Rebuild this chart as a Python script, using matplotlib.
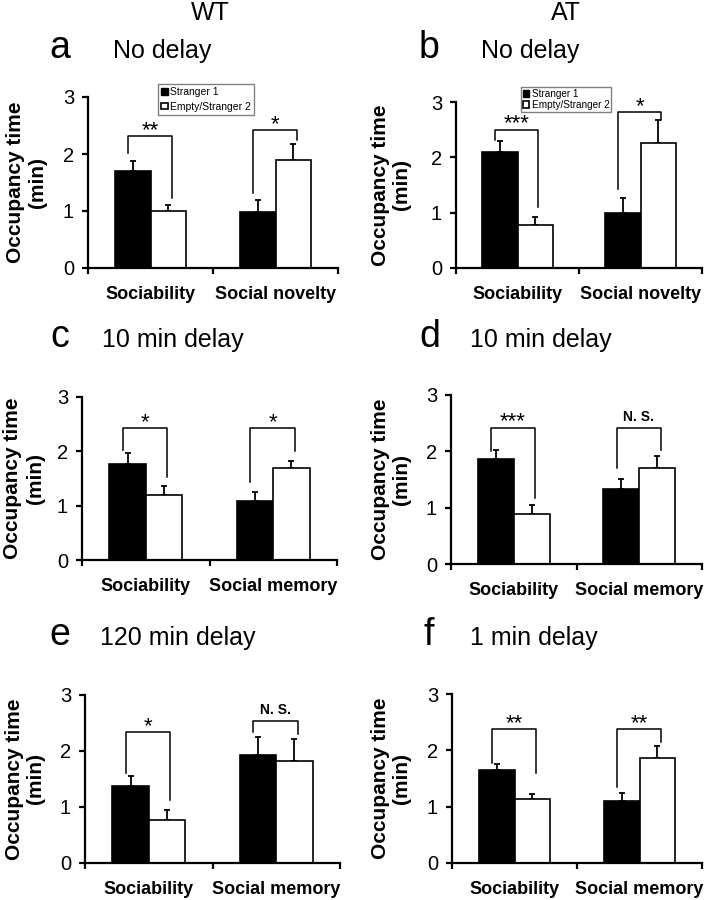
import matplotlib
matplotlib.use('Agg')
import matplotlib.pyplot as plt
from matplotlib.patches import Patch

plt.rcParams['font.family'] = ['Liberation Sans', 'DejaVu Sans']

# panel data (in min)
panel_letters = ['a', 'b', 'c', 'd', 'e', 'f']
panel_titles = ['No delay', 'No delay', '10 min delay', '10 min delay',
                '120 min delay', '1 min delay']
group_labels = [['Sociability', 'Social novelty'], ['Sociability', 'Social novelty'],
                ['Sociability', 'Social memory'], ['Sociability', 'Social memory'],
                ['Sociability', 'Social memory'], ['Sociability', 'Social memory']]
stranger1_mean = [[1.70, 0.98], [2.09, 1.00], [1.77, 1.08],
                  [1.87, 1.33], [1.37, 1.93], [1.65, 1.10]]
stranger1_sem = [[0.17, 0.22], [0.20, 0.27], [0.20, 0.18],
                 [0.16, 0.18], [0.18, 0.32], [0.10, 0.14]]
stranger2_mean = [[1.00, 1.89], [0.78, 2.25], [1.20, 1.69],
                  [0.89, 1.70], [0.76, 1.82], [1.13, 1.87]]
stranger2_sem = [[0.10, 0.29], [0.14, 0.42], [0.16, 0.14],
                 [0.16, 0.22], [0.19, 0.40], [0.10, 0.20]]
# significance brackets: (top, left leg end, right leg end) per group
bracket_top = [[2.32, 2.42], [2.50, 2.82], [2.43, 2.43],
               [2.42, 2.42], [2.34, 2.54], [2.37, 2.37]]
bracket_left = [[2.02, 1.32], [2.32, 1.42], [2.02, 1.44],
                [2.01, 1.70], [1.60, 2.34], [1.78, 1.35]]
bracket_right = [[1.23, 2.25], [1.11, 2.68], [1.52, 2.00],
                 [1.17, 2.03], [1.13, 2.31], [1.59, 2.15]]
sig_labels = [['**', '*'], ['***', '*'], ['*', '*'],
              ['***', 'N. S.'], ['*', 'N. S.'], ['**', '**']]
legend_labels = ['Stranger 1', 'Empty/Stranger 2']

W, H = 704, 900
fig = plt.figure(figsize=(W / 100, H / 100), dpi=100)

# axes boxes in pixels: left, right, top(y=3), bottom(y=0)
boxes = [(88, 338, 97, 268), (456, 702, 102, 268),
         (82, 337, 397, 560), (451, 702, 395, 564),
         (85, 340, 695, 863), (452, 702, 694, 863)]
letter_pos = [(49, 58, 113), (419, 58, 481), (50, 347, 102),
              (419, 347, 470), (49, 645, 100), (424, 645, 470)]
ylabel_x = [27, 391, 24, 391, 25, 391]

width = 0.285
for i in range(6):
    l, r, t, b = boxes[i]
    ax = fig.add_axes([l / W, 1 - b / H, (r - l) / W, (b - t) / H])
    x = [0, 1]
    ax.bar([v - width / 2 for v in x], stranger1_mean[i], width, color='black',
           edgecolor='black', linewidth=1.2, zorder=2)
    ax.bar([v + width / 2 for v in x], stranger2_mean[i], width, color='white',
           edgecolor='black', linewidth=1.2, zorder=2)
    ax.errorbar([v - width / 2 for v in x], stranger1_mean[i],
                yerr=[[0, 0], stranger1_sem[i]], fmt='none', ecolor='black',
                elinewidth=1.3, capsize=2, capthick=1.3, zorder=1)
    ax.errorbar([v + width / 2 for v in x], stranger2_mean[i],
                yerr=[[0, 0], stranger2_sem[i]], fmt='none', ecolor='black',
                elinewidth=1.3, capsize=2, capthick=1.3, zorder=1)

    # brackets
    for g in range(2):
        xl, xr = g - 0.18, g + 0.17
        top = bracket_top[i][g]
        ax.plot([xl, xl, xr, xr], [bracket_left[i][g], top, top, bracket_right[i][g]],
                color='black', linewidth=1.1, clip_on=False, zorder=3)
        lab = sig_labels[i][g]
        if lab == 'N. S.':
            ax.annotate(lab, ((xl + xr) / 2, top), xytext=(0, 3),
                        textcoords='offset points', ha='center', va='bottom',
                        fontsize=10, fontweight='bold')
        else:
            ax.annotate(lab, ((xl + xr) / 2, top), xytext=(0, 0),
                        textcoords='offset points', ha='center', va='baseline',
                        fontsize=16)

    ax.set_xlim(-0.5, 1.5)
    ax.set_ylim(0, 3)
    for s in ['top', 'right']:
        ax.spines[s].set_visible(False)
    for s in ['left', 'bottom']:
        ax.spines[s].set_linewidth(1.6)
    ax.set_yticks([0, 1, 2, 3])
    ax.tick_params(axis='y', direction='out', length=4, width=1.6,
                   labelsize=14.5, pad=6)
    ax.set_xticks([-0.5, 0.5, 1.5])
    ax.set_xticklabels(['', '', ''])
    ax.tick_params(axis='x', which='major', direction='out', length=4, width=1.6)
    ax.set_xticks([0, 1], minor=True)
    ax.set_xticklabels(group_labels[i], minor=True, fontsize=13, fontweight='bold')
    ax.tick_params(axis='x', which='minor', length=0, pad=13)

    fig.text(ylabel_x[i] / W, 1 - (t + b) / 2 / H, 'Occupancy time\n(min)',
             rotation=90, ha='center', va='center', fontsize=15,
             fontweight='bold', linespacing=1.2)

    lx, ly, tx = letter_pos[i]
    fig.text(lx / W, 1 - ly / H, panel_letters[i], fontsize=27, va='baseline')
    fig.text(tx / W, 1 - ly / H, panel_titles[i], fontsize=18, va='baseline')

    if i < 2:
        handles = [Patch(facecolor='black', edgecolor='black'),
                   Patch(facecolor='white', edgecolor='black', linewidth=1.2)]
        anchors = [(153, 79), (516, 82)]
        leg = ax.legend(handles, legend_labels, loc='upper left',
                        bbox_to_anchor=(anchors[i][0] / W, 1 - anchors[i][1] / H),
                        bbox_transform=fig.transFigure,
                        fontsize=7.2 if i == 1 else 7.5,
                        handlelength=0.6, handleheight=0.6, handletextpad=0.25,
                        labelspacing=0.1 if i == 1 else 0.4,
                        borderpad=0.2 if i == 1 else 0.3,
                        fancybox=False, framealpha=1, edgecolor='gray')
        leg.get_frame().set_linewidth(1.0)

fig.text(210 / W, 1 - 20 / H, 'WT', fontsize=18, ha='center', va='baseline')
fig.text(566 / W, 1 - 20 / H, 'AT', fontsize=18, ha='center', va='baseline')

fig.savefig('out.png', dpi=100)
